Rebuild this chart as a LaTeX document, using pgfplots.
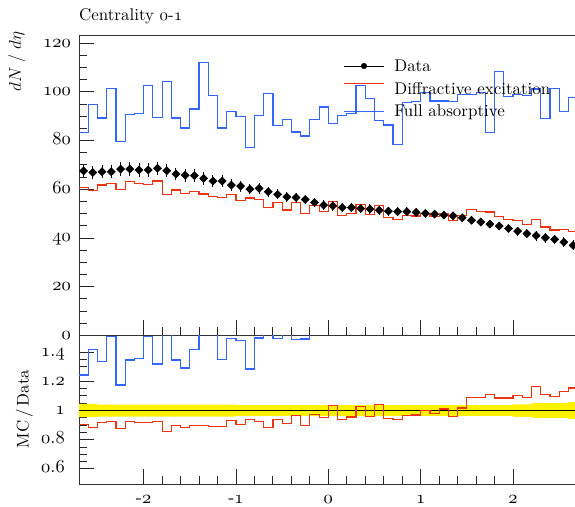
\documentclass[border=0pt]{standalone}
\usepackage{fontspec}
\setmainfont{lmroman10-regular.otf}
\usepackage{pgfplots}
\usepackage{pgfplotstable}
\pgfplotsset{compat=1.18}
\definecolor{rvred}{RGB}{238,51,17}
\definecolor{rvblue}{RGB}{51,102,255}
\DeclareFontFamily{OML}{myosf}{\skewchar\font=127}
\DeclareFontShape{OML}{myosf}{m}{it}{<-> cmmi10}{}
\newcommand{\myosf}[1]{\mbox{\usefont{OML}{myosf}{m}{it}#1}}
\newcommand{\mytick}[1]{\mbox{\fontsize{18.5}{22}\selectfont #1}}
\newcommand{\mytk}[1]{\mytick{\myosf{#1}}}
\newcommand{\mytkd}[2]{\mytick{\myosf{#1}.\myosf{#2}}}
\newcommand{\mytxt}{\fontsize{17}{20}\selectfont}

\pgfplotstableread{
xlo red blue rred rblue
-2.7 60.8 83.4 0.902 1.244
-2.6 59.6 94.7 0.886 1.416
-2.5 61.8 89.3 0.916 1.334
-2.4 62.3 101.4 0.925 1.509
-2.3 59.8 79.6 0.879 1.175
-2.2 63.1 90.7 0.925 1.346
-2.1 62.4 91.2 0.920 1.357
-2.0 62.1 102.5 0.916 1.510
-1.9 63.4 89.4 0.925 1.319
-1.8 57.9 104.4 0.857 1.544
-1.7 59.7 89.3 0.898 1.346
-1.6 58.3 85.2 0.882 1.291
-1.5 59.1 93.0 0.898 1.416
-1.4 58.1 112.1 0.898 1.738
-1.3 56.9 98.4 0.893 1.552
-1.2 56.5 85.2 0.891 1.348
-1.1 57.7 91.9 0.932 1.494
-1.0 55.4 90.0 0.902 1.478
-0.9 56.4 77.1 0.939 1.284
-0.8 55.9 90.3 0.925 1.497
-0.7 52.4 99.3 0.886 1.683
-0.6 54.5 86.1 0.939 1.493
-0.5 51.5 88.8 0.909 1.561
-0.4 54.6 83.5 0.966 1.485
-0.3 50.1 81.9 0.898 1.490
-0.2 53.4 88.7 0.973 1.625
-0.1 50.9 93.8 0.952 1.753
0.0 55.0 87.1 1.034 1.637
0.1 49.1 90.3 0.936 1.720
0.2 50.1 91.1 0.955 1.735
0.3 53.7 102.5 1.030 1.967
0.4 49.8 97.4 0.959 1.877
0.5 53.5 88.1 1.041 1.714
0.6 48.3 86.4 0.948 1.694
0.7 47.7 78.5 0.939 1.545
0.8 49.1 95.5 0.966 1.880
0.9 49.0 96.0 0.970 1.901
1.0 50.1 99.7 1.000 1.990
1.1 48.9 96.3 0.982 1.934
1.2 49.9 96.3 1.011 1.949
1.3 47.2 96.0 0.961 1.955
1.4 49.2 98.8 1.018 2.046
1.5 51.6 98.8 1.091 2.089
1.6 50.8 99.9 1.091 2.144
1.7 50.7 83.4 1.109 1.825
1.8 48.8 108.4 1.086 2.414
1.9 47.7 98.1 1.086 2.235
2.0 47.2 98.8 1.102 2.308
2.1 45.6 98.5 1.091 2.356
2.2 47.7 101.2 1.164 2.468
2.3 44.5 89.2 1.109 2.224
2.4 43.3 101.5 1.098 2.576
2.5 43.4 91.9 1.132 2.399
2.6 42.7 97.8 1.155 2.643
2.7 42.7 97.8 1.155 2.643
}\histtab

\pgfplotstableread{
x y err
-2.65 67.6 2.70
-2.55 66.9 2.68
-2.45 67.2 2.69
-2.35 67.2 2.69
-2.25 68.3 2.73
-2.15 68.3 2.73
-2.05 67.9 2.72
-1.95 67.9 2.72
-1.85 68.6 2.74
-1.75 67.6 2.70
-1.65 66.3 2.65
-1.55 65.8 2.63
-1.45 65.6 2.62
-1.35 64.5 2.58
-1.25 63.4 2.54
-1.15 63.4 2.54
-1.05 61.7 2.47
-0.95 61.3 2.21
-0.85 60.1 2.16
-0.75 60.4 2.17
-0.65 59.0 2.12
-0.55 57.9 2.08
-0.45 56.9 2.05
-0.35 56.6 2.04
-0.25 55.8 2.01
-0.15 54.6 1.97
-0.05 53.5 1.93
0.05 53.2 1.92
0.15 52.5 1.89
0.25 52.5 1.89
0.35 52.1 1.88
0.45 51.9 1.87
0.55 51.4 1.85
0.65 51.0 1.84
0.75 50.8 1.83
0.85 50.8 1.83
0.95 50.5 1.82
1.05 50.1 1.80
1.15 49.8 1.79
1.25 49.4 1.78
1.35 49.1 1.77
1.45 48.3 1.74
1.55 47.3 1.70
1.65 46.6 1.68
1.75 45.7 1.65
1.85 44.9 1.62
1.95 43.9 1.58
2.05 42.8 1.80
2.15 41.8 1.76
2.25 41.0 2.05
2.35 40.1 2.00
2.45 39.4 1.97
2.55 38.3 1.92
2.65 37.0 2.11
}\datatab

\begin{document}
\begin{tikzpicture}
\pgfplotsset{rivet/.style={
  scale only axis, width=498.7bp, xmin=-2.7, xmax=2.7,
  tick align=inside, major tick length=15bp, minor tick length=8bp,
  xtick pos=left, ytick pos=left,
  every tick/.style={black!85, line width=0.9bp},
  axis line style={black!80, line width=1bp},
  xtick={-2,-1,0,1,2}, minor x tick num=4, minor y tick num=3,
}}
\begin{axis}[rivet,
  at={(79bp,171.6bp)}, anchor=south west, height=299.5bp,
  ymin=0, ymax=123, clip mode=individual,
  ytick={0,20,40,60,80,100,120},
  yticklabels={\mytk{0},\mytk{20},\mytk{40},\mytk{60},\mytk{80},\mytk{100},\mytk{120}},
  yticklabel style={anchor=base east, inner sep=0pt, xshift=-8bp, yshift=-4bp},
  xticklabels={},
  ylabel={\fontsize{17.28}{20}\selectfont$dN\;/\;d\eta$},
  ylabel style={at={(axis description cs:-0.1424,1.014)}, anchor=north east, inner sep=0pt},
  reverse legend,
  legend style={at={(axis description cs:0.530,0.9205)}, anchor=north west,
    draw=none, fill=none, inner sep=0pt, outer sep=0pt, font=\mytxt, row sep=6.5bp,
    nodes={anchor=base west, inner sep=0pt, text height=12bp, text depth=4bp},
    /tikz/every odd column/.append style={column sep=9.7bp}},
]
\node[anchor=base west, inner sep=0pt, font=\mytxt] at (axis description cs:0,1.0508) {Centrality \myosf{0}-\myosf{1}};
\addplot[rvblue, line width=1.2bp, const plot, mark=none,
  legend image code/.code={\draw[rvblue, line width=1.3bp] (0bp,5bp) -- (40bp,5bp);}]
  table[x=xlo, y=blue] {\histtab};
\addlegendentry{Full absorptive}
\addplot[rvred, line width=1.2bp, const plot, mark=none,
  legend image code/.code={\draw[rvred, line width=1.3bp] (0bp,11bp) -- (40bp,11bp);}]
  table[x=xlo, y=red] {\histtab};
\addlegendentry{Diffractive excitation}
\addplot[black, only marks, mark=square*, mark size=2.9bp, mark options={rotate=45, fill=black},
  legend image code/.code={\draw[black, line width=1bp] (0bp,5.7bp) -- (40bp,5.7bp); \fill[black] (20bp,5.7bp) circle (2.8bp);},
  error bars/.cd, y dir=both, y explicit, error mark=none,
  error bar style={line width=1bp, black}]
  table[x=x, y=y, y error=err] {\datatab};
\addlegendentry{Data}
\end{axis}

\begin{axis}[rivet,
  at={(79bp,171.6bp)}, anchor=north west, height=148.8bp,
  ymin=0.495, ymax=1.515,
  ytick={0.6,0.8,1,1.2,1.4},
  yticklabels={\mytkd{0}{6},\mytkd{0}{8},\mytk{1},\mytkd{1}{2},\mytkd{1}{4}},
  yticklabel style={anchor=base east, inner sep=0pt, xshift=-14bp, yshift=-4bp},
  xticklabels={\mytick{-\myosf{2}},\mytick{-\myosf{1}},\mytk{0},\mytk{1},\mytk{2}},
  xticklabel style={anchor=base, inner sep=0pt, yshift=-19.5bp},
  ylabel={\mytxt MC\,/\,Data},
  ylabel style={at={(axis description cs:-0.127,0.505)}, anchor=north, inner sep=0pt},
]
\addplot[fill=yellow, draw=none] coordinates {
  (-2.7,1.045) (-2.5,1.045) (-2.5,1.041) (-1.0,1.041) (-1.0,1.037) (2.0,1.037)
  (2.0,1.043) (2.2,1.043) (2.2,1.050) (2.6,1.050) (2.6,1.058) (2.7,1.058)
  (2.7,0.942) (2.6,0.942) (2.6,0.950) (2.2,0.950) (2.2,0.957) (2.0,0.957)
  (2.0,0.963) (-1.0,0.963) (-1.0,0.959) (-2.5,0.959) (-2.5,0.955) (-2.7,0.955)};
\addplot[black, line width=1bp, mark=none] coordinates {(-2.7,1) (2.7,1)};
\addplot[rvblue, line width=1.2bp, const plot, mark=none] table[x=xlo, y=rblue] {\histtab};
\addplot[rvred, line width=1.2bp, const plot, mark=none] table[x=xlo, y=rred] {\histtab};
\end{axis}
\pgfresetboundingbox
\path[use as bounding box] (0,0) rectangle (575bp,507bp);
\end{tikzpicture}
\end{document}
